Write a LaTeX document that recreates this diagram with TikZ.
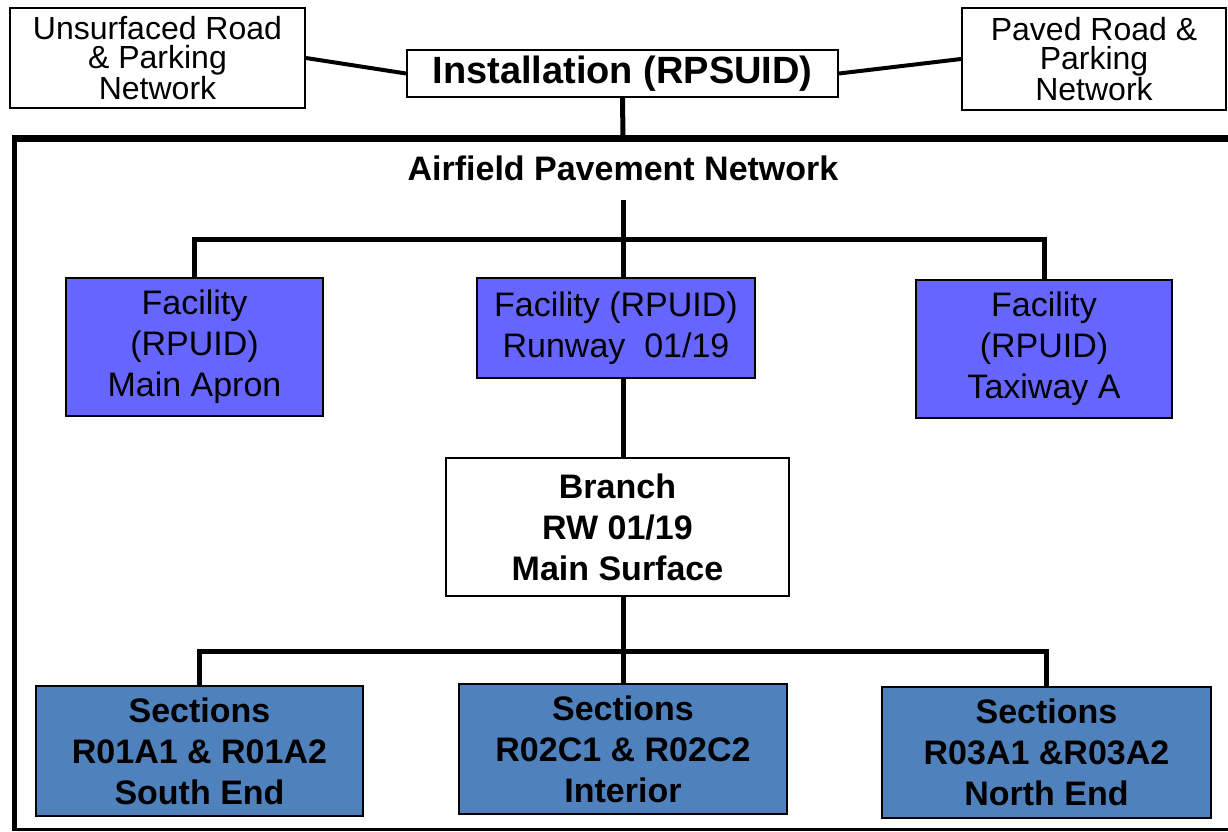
\documentclass[tikz,border=0pt]{standalone}
\usepackage{fontspec}
\setmainfont{Liberation Sans}
\usepackage{xcolor}
\definecolor{facblue}{HTML}{6666FF}
\definecolor{secblue}{HTML}{4F81BD}
\usepackage{tikz}

\begin{document}
\begin{tikzpicture}[x=1pt,y=-1pt,
		netbox/.style={draw,line width=2pt,fill=white,inner sep=0pt,align=center,font=\fontsize{32}{29}\selectfont},
		facbox/.style={draw,line width=2pt,fill=facblue,inner sep=0pt,align=center,font=\fontsize{34}{41}\selectfont},
		secbox/.style={draw,line width=2pt,fill=secblue,inner sep=0pt,align=center,font=\fontsize{34}{41}\selectfont\bfseries},
		link/.style={line width=5pt}]
			\useasboundingbox (0,0) rectangle (1228,831);
			\node[netbox,minimum width=295,minimum height=100] (unsurf) at (157.5,58) {Unsurfaced Road\\\& Parking\\Network};
			\node[netbox,minimum width=431,minimum height=47,font=\fontsize{38}{40}\selectfont\bfseries] (inst) at (622.5,73.5) {Installation (RPSUID)};
			\node[netbox,minimum width=264,minimum height=102] (paved) at (1094,59) {Paved Road \&\\Parking\\Network};
			\coordinate (frametop) at (623,138);
			\draw[line width=7pt] (12,138) -- (1240,138);
			\draw[line width=5pt] (14.5,135) -- (14.5,831);
			\draw[line width=3pt] (14.5,829.5) -- (1240,829.5);
			\node[font=\fontsize{34}{41}\selectfont\bfseries] (net) at (623,168) {Airfield Pavement Network};
			\coordinate (netfoot) at (623,200);
			\node[facbox,minimum width=257,minimum height=138] (fac1) at (194.5,347) {Facility\\(RPUID)\\Main Apron};
			\node[facbox,minimum width=278,minimum height=100] (fac2) at (616,328) {Facility (RPUID)\\Runway\ \ 01/19};
			\node[facbox,minimum width=256,minimum height=138] (fac3) at (1044,349) {Facility\\(RPUID)\\Taxiway A};
			\node[secbox,fill=white,minimum width=343,minimum height=138] (branch) at (617.5,527) {Branch\\RW 01/19\\Main Surface};
			\node[secbox,minimum width=327,minimum height=130] (sec1) at (199.5,751) {Sections\\R01A1 \& R01A2\\South End};
			\node[secbox,minimum width=328,minimum height=130] (sec2) at (623,749) {Sections\\R02C1 \& R02C2\\Interior};
			\node[secbox,minimum width=329,minimum height=131] (sec3) at (1046.5,752.5) {Sections\\R03A1 \&R03A2\\North End};
			\draw[line width=4pt] (unsurf.east) -- (inst.west);
			\draw[line width=4pt] (paved.west) -- (inst.east);
			\draw[link] (inst.south) -- (frametop);
			\draw[link] (netfoot) -- (netfoot |- fac2.north);
			\draw[link] (fac1.north) -- ++(0,-38) -| (fac3.north);
			\draw[link] (fac2.south -| netfoot) -- (branch.north -| netfoot);
			\draw[link] (branch.south -| netfoot) -- (sec2.north);
			\draw[link] (sec1.north) -- ++(0,-34) -| (sec3.north);
		\end{tikzpicture}
\end{document}
